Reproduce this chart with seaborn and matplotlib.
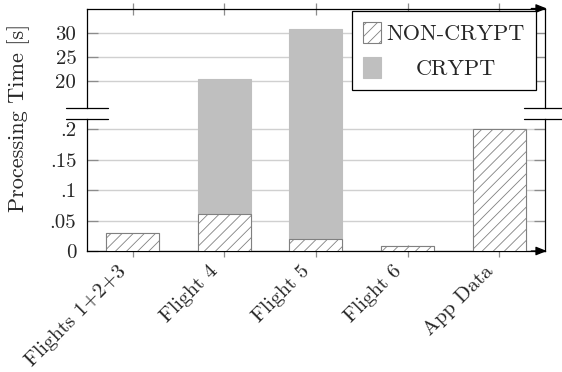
import matplotlib
matplotlib.use("Agg")
import matplotlib.pyplot as plt
from matplotlib.transforms import Affine2D
from matplotlib.patches import Patch, Rectangle
import seaborn as sns

# Processing time per protocol stage, in seconds
categories = ["Flights 1+2+3", "Flight 4", "Flight 5", "Flight 6", "App Data"]
non_crypt = [0.03, 0.06, 0.02, 0.009, 0.2]
crypt = [0.0, 20.3, 30.8, 0.0, 0.0]

upper_ticks = [20, 25, 30]
upper_ticklabels = ["20", "25", "30"]
lower_ticks = [0, 0.05, 0.1, 0.15, 0.2]
lower_ticklabels = ["0", ".05", ".1", ".15", ".2"]

sns.set_style("white")
plt.rcParams["font.family"] = ["cmr10", "DejaVu Serif"]
plt.rcParams["hatch.linewidth"] = 0.6
plt.rcParams["axes.unicode_minus"] = False

YTICK_FS = 15
XTICK_FS = 15
LABEL_FS = 16
LEGEND_FS = 16
GRID_C = "#d0d0d0"
TICK_C = "#8c8c8c"
HATCH_EDGE = "#808080"
CRYPT_C = "#bfbfbf"

total = [n + c for n, c in zip(non_crypt, crypt)]

fig = plt.figure(figsize=(5.62, 3.72), dpi=100)
W, H = 562, 372
x0, x1 = 86.7, 545.0
top_y0, top_y1 = 8.5, 108.3     # pixel rows of the upper panel
bot_y0, bot_y1 = 119.0, 251.0   # pixel rows of the lower panel
ax_top = fig.add_axes([x0 / W, 1 - top_y1 / H, (x1 - x0) / W, (top_y1 - top_y0) / H])
ax_bot = fig.add_axes([x0 / W, 1 - bot_y1 / H, (x1 - x0) / W, (bot_y1 - bot_y0) / H])

# clip region for the upper panel's stacked bars: runs down through the break gap
gap_clip = Rectangle((x0 / W, 1 - bot_y0 / H), (x1 - x0) / W, (bot_y0 - top_y0) / H,
                     transform=fig.transFigure, facecolor="none", edgecolor="none")

for ax in (ax_top, ax_bot):
    n0 = len(ax.patches)
    # stacked bars: total in the CRYPT colour, NON-CRYPT part drawn over it
    sns.barplot(x=categories, y=total, color=CRYPT_C, saturation=1, width=0.58,
                edgecolor=CRYPT_C, linewidth=0.8, ax=ax, zorder=2)
    if ax is ax_top:
        for p in ax.patches[n0:]:
            p.set_clip_path(gap_clip)
    sns.barplot(x=categories, y=non_crypt, color="white", saturation=1, width=0.58,
                edgecolor=HATCH_EDGE, linewidth=0.8, hatch="///", ax=ax, zorder=3)
    ax.set_xlim(-0.5, 4.5)
    ax.set_ylabel("")
    ax.set_xlabel("")
    ax.grid(axis="y", color=GRID_C, linewidth=1.0, zorder=0)
    ax.set_axisbelow(True)
    for s in ax.spines.values():
        s.set_color("black")
        s.set_linewidth(0.9)
    ax.tick_params(axis="y", direction="in", length=8, width=0.9, color=TICK_C,
                   left=True, right=True, labelsize=YTICK_FS, pad=7.5)

ax_top.set_ylim(14.35, 35.0)
ax_top.set_yticks(upper_ticks, upper_ticklabels)
ax_top.spines["bottom"].set_visible(False)
ax_top.tick_params(axis="x", direction="inout", length=8, width=0.9, color=TICK_C,
                   top=True, bottom=False, labelbottom=False, labeltop=False)

ax_bot.set_ylim(0, 0.2169)
ax_bot.set_yticks(lower_ticks, lower_ticklabels)
ax_bot.spines["top"].set_visible(False)
ax_bot.tick_params(axis="x", direction="inout", length=8, width=0.9, color=TICK_C,
                   top=False, bottom=True, labelsize=XTICK_FS, pad=2)
for lab in ax_bot.get_xticklabels():
    lab.set_rotation(45)
    lab.set_ha("right")
    lab.set_va("center")
    lab.set_rotation_mode("anchor")
    lab.set_transform(lab.get_transform() + Affine2D().translate(-9, -9))

# axis break marks
d = 21 / (x1 - x0)
for xc in (0, 1):
    ax_top.plot([xc - d, xc + d], [0, 0], transform=ax_top.transAxes,
                color="black", lw=0.9, clip_on=False, zorder=5)
    ax_bot.plot([xc - d, xc + d], [1, 1], transform=ax_bot.transAxes,
                color="black", lw=0.9, clip_on=False, zorder=5)

# arrow heads on the horizontal axis lines
arrow = dict(arrowstyle="-|>,head_length=0.55,head_width=0.22", color="black",
             lw=0.9, shrinkA=0, shrinkB=0, mutation_scale=12)
ax_top.annotate("", xy=(1.004, 1), xytext=(0.97, 1), xycoords="axes fraction",
                arrowprops=arrow, annotation_clip=False)
ax_bot.annotate("", xy=(1.004, 0), xytext=(0.97, 0), xycoords="axes fraction",
                arrowprops=arrow, annotation_clip=False)

fig.text(19 / W, 1 - 117.5 / H, "Processing Time [s]", rotation=90,
         ha="center", va="center", fontsize=LABEL_FS)

# legend
handles = [Patch(facecolor="white", edgecolor=HATCH_EDGE, hatch="///", linewidth=0.8),
           Patch(facecolor=CRYPT_C, edgecolor=CRYPT_C, linewidth=0.8)]
leg = ax_top.legend(handles, ["NON-CRYPT", "CRYPT"], loc="upper right",
                    bbox_to_anchor=(0.980, 0.975), borderaxespad=0,
                    fontsize=LEGEND_FS, frameon=True, fancybox=False,
                    edgecolor="black", framealpha=1, handlelength=0.8,
                    handleheight=1.1, handletextpad=0.25, labelspacing=0.55,
                    borderpad=0.5)
leg.get_frame().set_linewidth(0.9)
leg.set_zorder(10)

# centre the second legend label under the first
fig.canvas.draw()
r = fig.canvas.get_renderer()
t0, t1 = leg.get_texts()
dx = (t0.get_window_extent(r).width - t1.get_window_extent(r).width) / 2
t1.set_transform(t1.get_transform() + Affine2D().translate(dx, 0))

fig.savefig("out.png", dpi=100)
